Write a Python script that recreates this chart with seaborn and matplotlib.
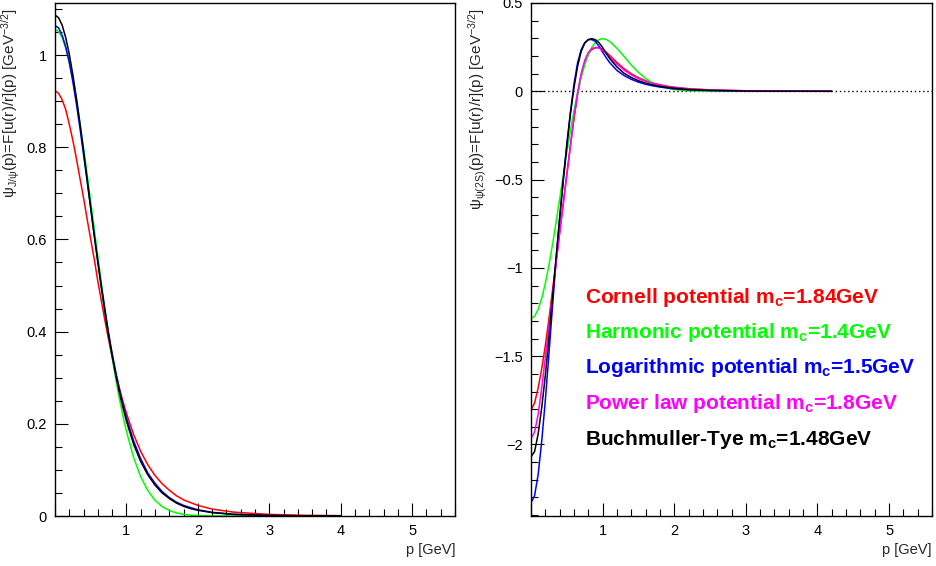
import numpy as np
import pandas as pd
import matplotlib
matplotlib.use("Agg")
import matplotlib.pyplot as plt
import matplotlib.ticker as mticker
import seaborn as sns

# ---------------- data ----------------
p_1s = [0.0, 0.05, 0.1, 0.15, 0.2, 0.25, 0.3, 0.35, 0.4, 0.45, 0.5, 0.55, 0.6, 0.65,
        0.7, 0.75, 0.8, 0.85, 0.9, 0.95, 1.0, 1.1, 1.2, 1.3, 1.4, 1.5, 1.6, 1.7, 1.8,
        1.9, 2.0, 2.2, 2.5, 3.0, 3.5, 4.0]
cornell_1s = [0.923, 0.917, 0.903, 0.882, 0.850, 0.815, 0.775, 0.732, 0.690, 0.644, 0.600,
              0.557, 0.509, 0.466, 0.423, 0.383, 0.345, 0.310, 0.278, 0.249, 0.223, 0.177,
              0.140, 0.111, 0.088, 0.070, 0.056, 0.044, 0.035, 0.029, 0.023, 0.015, 0.0084,
              0.0034, 0.0015, 0.0008]
harmonic_1s = [1.056, 1.051, 1.038, 1.015, 0.985, 0.947, 0.902, 0.852, 0.798, 0.741, 0.682,
               0.622, 0.563, 0.504, 0.448, 0.395, 0.345, 0.298, 0.256, 0.218, 0.184, 0.127,
               0.085, 0.055, 0.034, 0.0206, 0.012, 0.0067, 0.0036, 0.0019, 0.001, 0.0002,
               0.0, 0.0, 0.0, 0.0]
log_1s = [1.064, 1.059, 1.043, 1.018, 0.984, 0.942, 0.894, 0.841, 0.784, 0.726, 0.667,
          0.608, 0.552, 0.498, 0.446, 0.397, 0.353, 0.313, 0.276, 0.243, 0.213, 0.163,
          0.124, 0.093, 0.071, 0.053, 0.040, 0.030, 0.023, 0.018, 0.0135, 0.008, 0.0038,
          0.0012, 0.0004, 0.00015]
bt_1s = [1.087, 1.081, 1.065, 1.038, 1.002, 0.957, 0.907, 0.851, 0.792, 0.731, 0.669,
         0.609, 0.550, 0.494, 0.442, 0.392, 0.347, 0.306, 0.269, 0.236, 0.206, 0.156,
         0.118, 0.089, 0.067, 0.050, 0.038, 0.028, 0.021, 0.016, 0.0124, 0.0073, 0.0034,
         0.0011, 0.0004, 0.00015]

p_2s = [0.0, 0.05, 0.1, 0.15, 0.2, 0.25, 0.3, 0.35, 0.4, 0.45, 0.5, 0.55, 0.6, 0.65,
        0.7, 0.75, 0.8, 0.85, 0.9, 0.95, 1.0, 1.05, 1.1, 1.2, 1.3, 1.4, 1.5, 1.6, 1.7,
        1.8, 1.9, 2.0, 2.2, 2.5, 3.0, 3.5, 4.2]
cornell_2s = [-1.805, -1.765, -1.68, -1.57, -1.44, -1.29, -1.13, -0.965, -0.80, -0.635,
              -0.47, -0.31, -0.155, -0.02, 0.09, 0.165, 0.212, 0.237, 0.247, 0.247, 0.238,
              0.222, 0.203, 0.163, 0.128, 0.099, 0.077, 0.060, 0.047, 0.037, 0.029, 0.023,
              0.015, 0.008, 0.003, 0.0012, 0.0004]
harmonic_2s = [-1.287, -1.274, -1.235, -1.172, -1.088, -0.986, -0.869, -0.742, -0.610,
               -0.477, -0.347, -0.224, -0.110, -0.009, 0.078, 0.150, 0.207, 0.249, 0.277,
               0.293, 0.298, 0.294, 0.282, 0.244, 0.197, 0.149, 0.107, 0.073, 0.047, 0.029,
               0.017, 0.0098, 0.0028, 0.0003, 0.0, 0.0, 0.0]
log_2s = [-2.33, -2.29, -2.17, -1.98, -1.75, -1.49, -1.22, -0.96, -0.72, -0.50, -0.30,
          -0.12, 0.04, 0.16, 0.235, 0.275, 0.292, 0.293, 0.282, 0.255, 0.222, 0.19, 0.162,
          0.118, 0.089, 0.068, 0.052, 0.040, 0.031, 0.024, 0.019, 0.014, 0.0085, 0.0042,
          0.0014, 0.0005, 0.0001]
power_2s = [-1.966, -1.93, -1.83, -1.68, -1.51, -1.33, -1.15, -0.975, -0.805, -0.64,
            -0.475, -0.31, -0.15, -0.01, 0.10, 0.175, 0.22, 0.242, 0.249, 0.245, 0.232,
            0.214, 0.194, 0.154, 0.12, 0.093, 0.072, 0.056, 0.044, 0.034, 0.027, 0.021,
            0.013, 0.007, 0.0025, 0.001, 0.0003]
bt_2s = [-2.07, -2.04, -1.94, -1.79, -1.61, -1.40, -1.17, -0.94, -0.72, -0.51, -0.31,
         -0.13, 0.02, 0.14, 0.225, 0.272, 0.293, 0.298, 0.292, 0.275, 0.248, 0.215, 0.185,
         0.138, 0.102, 0.078, 0.060, 0.046, 0.036, 0.028, 0.022, 0.017, 0.010, 0.005,
         0.0017, 0.0006, 0.0001]

models = ["Cornell", "Harmonic", "Logarithmic", "Power law", "Buchmuller-Tye"]
legend_texts = ["Cornell potential m$_{c}$=1.84GeV",
                "Harmonic potential m$_{c}$=1.4GeV",
                "Logarithmic potential m$_{c}$=1.5GeV",
                "Power law potential m$_{c}$=1.8GeV",
                "Buchmuller-Tye m$_{c}$=1.48GeV"]
colors = {"Cornell": "#ff0000", "Harmonic": "#00ff00", "Logarithmic": "#0000ff",
          "Power law": "#ff00ff", "Buchmuller-Tye": "#000000"}

df1 = pd.concat([
    pd.DataFrame({"p": p_1s, "psi": cornell_1s, "model": "Cornell"}),
    pd.DataFrame({"p": p_1s, "psi": harmonic_1s, "model": "Harmonic"}),
    pd.DataFrame({"p": p_1s, "psi": log_1s, "model": "Logarithmic"}),
    pd.DataFrame({"p": p_1s, "psi": bt_1s, "model": "Buchmuller-Tye"}),
], ignore_index=True)
df2 = pd.concat([
    pd.DataFrame({"p": p_2s, "psi": cornell_2s, "model": "Cornell"}),
    pd.DataFrame({"p": p_2s, "psi": harmonic_2s, "model": "Harmonic"}),
    pd.DataFrame({"p": p_2s, "psi": log_2s, "model": "Logarithmic"}),
    pd.DataFrame({"p": p_2s, "psi": power_2s, "model": "Power law"}),
    pd.DataFrame({"p": p_2s, "psi": bt_2s, "model": "Buchmuller-Tye"}),
], ignore_index=True)

# ---------------- style ----------------
sns.set_style("ticks")
plt.rcParams["font.family"] = ["Liberation Sans", "DejaVu Sans"]
plt.rcParams["mathtext.default"] = "regular"

fig = plt.figure(figsize=(9.36, 5.66), dpi=100)
W, H = 936, 566
ax1 = fig.add_axes([55 / W, 50 / H, 400 / W, 513 / H])
ax2 = fig.add_axes([531 / W, 50 / H, 401 / W, 513 / H])

sns.lineplot(data=df1, x="p", y="psi", hue="model",
             hue_order=["Cornell", "Harmonic", "Logarithmic", "Buchmuller-Tye"],
             palette=colors, estimator=None, sort=False, legend=False,
             linewidth=1.1, ax=ax1)
ax2.axhline(0, color="black", lw=1.0, ls=(0, (1, 2)), zorder=1)
sns.lineplot(data=df2, x="p", y="psi", hue="model", hue_order=models,
             palette=colors, estimator=None, sort=False, legend=False,
             linewidth=1.1, ax=ax2)


def fmt(v, pos):
    return f"{v:g}".replace("-", "\u2212")


for ax in (ax1, ax2):
    ax.set_xlim(0, 5.6)
    for s in ax.spines.values():
        s.set_visible(True)
        s.set_color("black")
        s.set_linewidth(1.0)
    ax.xaxis.set_major_locator(mticker.MultipleLocator(1))
    ax.xaxis.set_minor_locator(mticker.MultipleLocator(0.2))
    ax.xaxis.set_major_formatter(mticker.FuncFormatter(lambda v, pos: "" if v == 0 else f"{v:g}"))
    ax.yaxis.set_major_formatter(mticker.FuncFormatter(fmt))
    ax.tick_params(which="both", direction="in", top=False, right=False,
                   colors="black", labelsize=10.5, width=0.8)
    ax.tick_params(which="major", length=9.5, pad=6)
    ax.tick_params(which="minor", length=5)
    ax.set_xlabel("p [GeV]", loc="right", fontsize=10.5)
    ax.xaxis.set_label_coords(1.0, -0.053)
    ax.grid(False)

ax1.set_ylim(0, 1.113)
ax1.yaxis.set_major_locator(mticker.MultipleLocator(0.2))
ax1.yaxis.set_minor_locator(mticker.MultipleLocator(0.05))
ax1.set_ylabel("ψ$_{J/ψ}$(p)=F[u(r)/r](p) [GeV$^{-3/2}$]", loc="top", fontsize=11)
ax1.yaxis.set_label_coords(-0.082, 0.99)

ax2.set_ylim(-2.405, 0.5)
ax2.yaxis.set_major_locator(mticker.MultipleLocator(0.5))
ax2.yaxis.set_minor_locator(mticker.MultipleLocator(0.1))
ax2.set_ylabel("ψ$_{ψ(2S)}$(p)=F[u(r)/r](p) [GeV$^{-3/2}$]", loc="top", fontsize=11)
ax2.yaxis.set_label_coords(-0.105, 0.99)

ys = [0.4146, 0.347, 0.279, 0.2086, 0.138]
for m, t, y in zip(models, legend_texts, ys):
    ax2.text(0.135, y, t, transform=ax2.transAxes, color=colors[m],
             fontsize=15, fontweight="bold", va="baseline", ha="left")

fig.savefig("out.png", dpi=100, facecolor="white")
